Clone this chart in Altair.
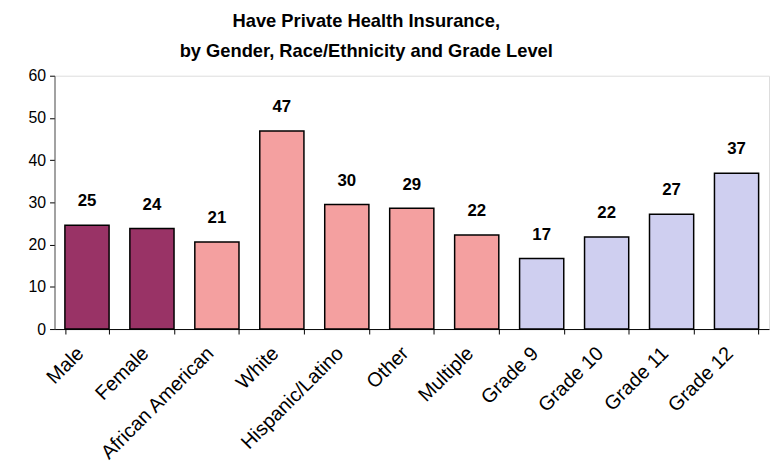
import altair as alt
import pandas as pd

categories = ["Male", "Female", "African American", "White", "Hispanic/Latino",
              "Other", "Multiple", "Grade 9", "Grade 10", "Grade 11", "Grade 12"]
values = [24.6, 23.8, 20.6, 46.9, 29.5, 28.6, 22.3, 16.7, 21.8, 27.2, 36.9]
groups = ["Gender", "Gender", "Race", "Race", "Race", "Race", "Race",
          "Grade", "Grade", "Grade", "Grade"]
group_names = ["Gender", "Race", "Grade"]
group_colors = ["#993366", "#F4A0A0", "#CFCFF0"]
y_ticks = [0, 10, 20, 30, 40, 50, 60]

df = pd.DataFrame({"cat": categories, "val": values, "grp": groups})

FONT = "Liberation Sans"

x_enc = alt.X("cat:N", sort=categories, title=None,
              scale=alt.Scale(paddingInner=0.32, paddingOuter=0.16),
              axis=alt.Axis(labelAngle=-45, labelAlign="right", labelBaseline="top",
                            labelFont=FONT, labelFontSize=20, labelColor="black",
                            labelPadding=9, labelOffset=-14, tickBand="extent",
                            tickSize=5, tickColor="black", domainColor="black",
                            labelLimit=300))
y_enc = alt.Y("val:Q", title=None,
              scale=alt.Scale(domain=[0, 60], nice=False),
              axis=alt.Axis(values=y_ticks, grid=False, tickSize=5, tickColor="black",
                            domainColor="#555555", labelFont=FONT, labelFontSize=16,
                            labelColor="black", labelPadding=4))

bars = alt.Chart(df).mark_bar(stroke="black", strokeWidth=1.5).encode(
    x=x_enc, y=y_enc,
    color=alt.Color("grp:N", scale=alt.Scale(domain=group_names, range=group_colors),
                    legend=None),
)

labels = alt.Chart(df).mark_text(font=FONT, fontSize=17, fontWeight="bold",
                                 baseline="bottom", dy=-15, color="black").encode(
    x=alt.X("cat:N", sort=categories),
    y=alt.Y("val:Q"),
    text=alt.Text("val:Q", format=".0f"),
)

chart = alt.layer(bars, labels).properties(
    width=722, height=256,
    title=alt.TitleParams(
        ["Have Private Health Insurance,", "by Gender, Race/Ethnicity and Grade Level"],
        font=FONT, fontSize=18.5, fontWeight="bold", lineHeight=31,
        anchor="middle", dx=-46, offset=7, color="black"),
    autosize=alt.AutoSizeParams(type="none"),
    padding={"left": 47, "top": 66, "right": 2, "bottom": 142},
).configure_view(stroke=None).configure(background="white")

chart.save("out.html", embed_options={"renderer": "svg", "actions": False})
